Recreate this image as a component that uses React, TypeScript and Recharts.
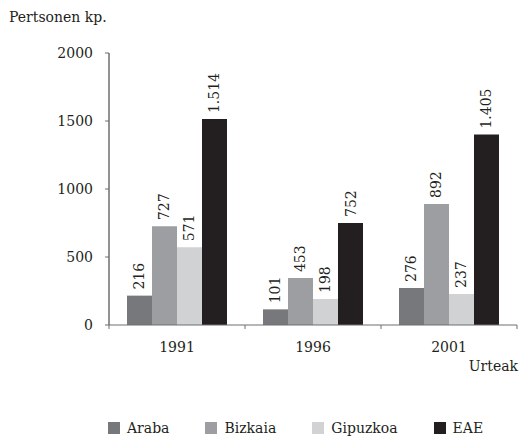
import { Bar, BarChart, CartesianGrid, LabelList, XAxis, YAxis } from 'recharts';

const years = ['1991', '1996', '2001'];
const araba = [216, 115, 272];
const bizkaia = [727, 345, 890];
const gipuzkoa = [571, 191, 228];
const eae = [1514, 750, 1400];
const arabaLabels = ['216', '101', '276'];
const bizkaiaLabels = ['727', '453', '892'];
const gipuzkoaLabels = ['571', '198', '237'];
const eaeLabels = ['1.514', '752', '1.405'];
const yTicks = [0, 500, 1000, 1500, 2000];

const series = [
  { key: 'araba', name: 'Araba', color: '#77787c', labels: arabaLabels },
  { key: 'bizkaia', name: 'Bizkaia', color: '#9d9ea2', labels: bizkaiaLabels },
  { key: 'gipuzkoa', name: 'Gipuzkoa', color: '#d1d2d4', labels: gipuzkoaLabels },
  { key: 'eae', name: 'EAE', color: '#231f20', labels: eaeLabels },
];

const data = years.map((year, i) => ({
  year,
  pos: i + 0.5,
  araba: araba[i],
  bizkaia: bizkaia[i],
  gipuzkoa: gipuzkoa[i],
  eae: eae[i],
}));

const font = "'DejaVu Serif', serif";
const ink = '#231f20';
const axisGrey = '#6d6e71';
const TICK_SIZE = 4;
const TICK_MARGIN = 12;

function makeLabel(labels: string[]) {
  return (props: any) => {
    const { x, y, width, index } = props;
    const cx = Number(x) + Number(width) / 2;
    const cy = Number(y) - 6;
    return (
      <text
        x={cx}
        y={cy}
        transform={`rotate(-90 ${cx} ${cy})`}
        textAnchor="start"
        dominantBaseline="central"
        fontFamily={font}
        fontSize={14}
        fill={ink}
      >
        {labels[index]}
      </text>
    );
  };
}

const XTick = (p: any) => (
  <text x={p.x} y={p.y} dy={26} textAnchor="middle" fill={ink} fontFamily={font} fontSize={14}>
    {p.payload.value}
  </text>
);

// y tick: text plus its own short tick mark, drawn from the tick position
const YTick = (p: any) => {
  const x0 = Number(p.x) + TICK_MARGIN;
  return (
    <g>
      <line x1={x0} y1={p.y} x2={x0 + TICK_SIZE} y2={p.y} stroke={axisGrey} strokeWidth={1} />
      <text x={p.x} y={p.y} dy="0.36em" textAnchor="end" fill={ink} fontFamily={font} fontSize={14}>
        {p.payload.value}
      </text>
    </g>
  );
};

export default function App() {
  return (
    <div style={{ position: 'absolute', left: 0, top: 0, width: 519, height: 436, overflow: 'hidden', background: '#fff', fontFamily: font, fontSize: 14, color: ink }}>
      <div style={{ position: 'absolute', left: 9, top: 9 }}>Pertsonen kp.</div>
      <div style={{ position: 'absolute', right: 1, top: 358 }}>Urteak</div>
      <BarChart
        width={519}
        height={436}
        data={data}
        margin={{ top: 53, right: 2, left: 0, bottom: 71 }}
        barGap={0}
        barCategoryGap={18}
      >
        <CartesianGrid
          xAxisId="a"
          horizontal={false}
          stroke={axisGrey}
          verticalCoordinatesGenerator={(args: any) => [args?.offset?.left ?? 109]}
        />
        <XAxis
          xAxisId="a"
          type="number"
          dataKey="pos"
          domain={[0, 3]}
          ticks={[0, 1, 2, 3]}
          tickFormatter={() => ''}
          tickSize={TICK_SIZE}
          stroke={axisGrey}
          height={1}
        />
        <XAxis
          xAxisId="b"
          dataKey="year"
          axisLine={false}
          tickLine={false}
          tickSize={0}
          tickMargin={0}
          height={39}
          tick={XTick}
        />
        <YAxis
          domain={[0, 2000]}
          ticks={yTicks}
          width={109}
          tickSize={TICK_SIZE}
          tickMargin={TICK_MARGIN}
          axisLine={{ stroke: axisGrey }}
          tickLine={false}
          tick={YTick}
        />
        {series.map((s) => (
          <Bar key={s.key} xAxisId="b" dataKey={s.key} name={s.name} fill={s.color} isAnimationActive={false}>
            <LabelList dataKey={s.key} content={makeLabel(s.labels)} />
          </Bar>
        ))}
      </BarChart>
      <div style={{ position: 'absolute', left: 108, top: 420, display: 'flex', lineHeight: '16px' }}>
        {series.map((s) => (
          <div key={s.key} style={{ display: 'flex', alignItems: 'center', marginRight: 36 }}>
            <span style={{ display: 'inline-block', width: 12, height: 12, background: s.color, marginRight: 7 }} />
            <span>{s.name}</span>
          </div>
        ))}
      </div>
    </div>
  );
}
